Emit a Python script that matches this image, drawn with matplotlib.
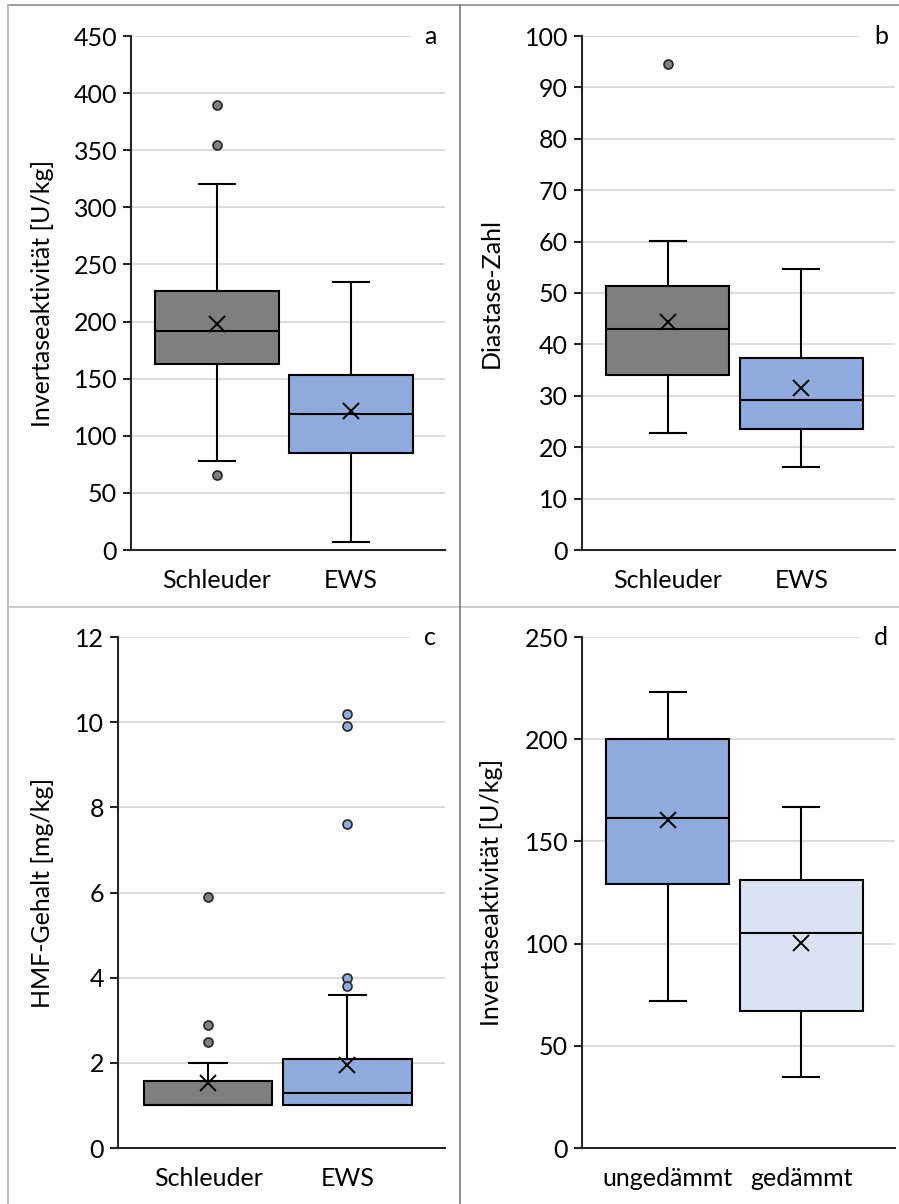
import matplotlib.pyplot as plt
from matplotlib.lines import Line2D

plt.rcParams['font.family'] = ['Lato', 'DejaVu Sans']

cats_ab = ['Schleuder', 'EWS']
cats_d = ['ungedämmt', 'gedämmt']

inv_schleuder = (78, 163, 192, 227, 320, 198, [390, 355, 66])
inv_ews = (7, 85, 119, 153, 235, 122, [])

dia_schleuder = (22.7, 34.1, 43.0, 51.4, 60.2, 44.4, [94.5])
dia_ews = (16.2, 23.6, 29.2, 37.4, 54.7, 31.5, [])

hmf_schleuder = (1.0, 1.0, 1.0, 1.57, 2.0, 1.52, [5.9, 2.9, 2.5])
hmf_ews = (1.0, 1.0, 1.29, 2.09, 3.6, 1.95, [10.2, 9.9, 7.6, 4.0, 3.8])

inv_ungedaemmt = (72, 129, 161.5, 200, 223, 160.5, [])
inv_gedaemmt = (34.5, 67, 105, 131.3, 167, 100.5, [])

GRAY = '#7f7f7f'
BLUE = '#8faadc'
LIGHT = '#dae3f3'

W, H = 899, 1204
FS = 18
fig = plt.figure(figsize=(W / 100, H / 100), dpi=100)


def stats(vals, label):
    lo, q1, med, q3, hi, mean, fl = vals
    return dict(whislo=lo, q1=q1, med=med, q3=q3, whishi=hi, mean=mean, fliers=fl, label=label)


def panel(rect, series, labels, colors, ylim, step, ylabel, label_x, letter, xlim, width):
    ax = fig.add_axes([rect[0] / W, 1 - rect[3] / H, (rect[2] - rect[0]) / W, (rect[3] - rect[1]) / H])
    for i, (s, lab, c) in enumerate(zip(series, labels, colors)):
        ax.bxp([stats(s, lab)], positions=[i + 1], widths=width, showmeans=True,
               patch_artist=True, manage_ticks=False,
               boxprops=dict(facecolor=c, edgecolor='black', linewidth=1.5),
               medianprops=dict(color='black', linewidth=1.5),
               whiskerprops=dict(color='black', linewidth=1.5),
               capprops=dict(color='black', linewidth=1.5),
               capwidths=0.27,
               meanprops=dict(marker='x', markersize=12, markeredgecolor='black',
                              markeredgewidth=1.4),
               flierprops=dict(marker='o', markerfacecolor=c, markeredgecolor='#262626',
                               markersize=6.5, markeredgewidth=1.2))
    ax.set_xlim(*xlim)
    ax.set_ylim(ylim)
    ax.set_yticks([v * step for v in range(int(ylim[1] / step) + 1)])
    ax.set_xticks([1, 2])
    ax.set_xticklabels(labels)
    ax.grid(axis='y', color='#d9d9d9', linewidth=1.3)
    ax.set_axisbelow(True)
    for sp in ['top', 'right']:
        ax.spines[sp].set_visible(False)
    for sp in ['left', 'bottom']:
        ax.spines[sp].set_color('#262626')
        ax.spines[sp].set_linewidth(1.5)
    ax.tick_params(axis='y', length=6, width=1.5, color='#262626', labelsize=FS, pad=4)
    ax.tick_params(axis='x', length=0, labelsize=FS, pad=14)
    ax.set_ylabel(ylabel, fontsize=FS)
    ax.yaxis.set_label_coords((label_x - rect[0]) / (rect[2] - rect[0]), 0.5)
    ax.text(0.955, 1.0, letter, transform=ax.transAxes, fontsize=FS, ha='center', va='center',
            bbox=dict(facecolor='white', edgecolor='none', pad=10))
    return ax


panel((131, 36, 445, 550), [inv_schleuder, inv_ews], cats_ab, [GRAY, BLUE],
      (0, 450), 50, 'Invertaseaktivität [U/kg]', 54, 'a', (0.358, 2.70), 0.92)
panel((582, 36, 895, 550), [dia_schleuder, dia_ews], cats_ab, [GRAY, BLUE],
      (0, 100), 10, 'Diastase-Zahl', 503, 'b', (0.358, 2.70), 0.92)
panel((118, 637, 445, 1148), [hmf_schleuder, hmf_ews], cats_ab, [GRAY, BLUE],
      (0, 12), 2, 'HMF-Gehalt [mg/kg]', 54, 'c', (0.353, 2.70), 0.92)
panel((582, 637, 895, 1148), [inv_ungedaemmt, inv_gedaemmt], cats_d, [BLUE, LIGHT],
      (0, 250), 50, 'Invertaseaktivität [U/kg]', 503, 'd', (0.358, 2.70), 0.92)

# Rahmen um die vier Felder
for xs, ys, col in [([8, 899], [5, 5], '#8c8c8c'), ([8, 8], [5, 1204], '#b5b5b5'),
                    ([8, 899], [607, 607], '#c4c4c4'), ([460, 460], [5, 1204], '#7a7a7a')]:
    fig.add_artist(Line2D([x / W for x in xs], [1 - y / H for y in ys],
                          transform=fig.transFigure, color=col, linewidth=1.2))

fig.savefig('out.png', dpi=100)
